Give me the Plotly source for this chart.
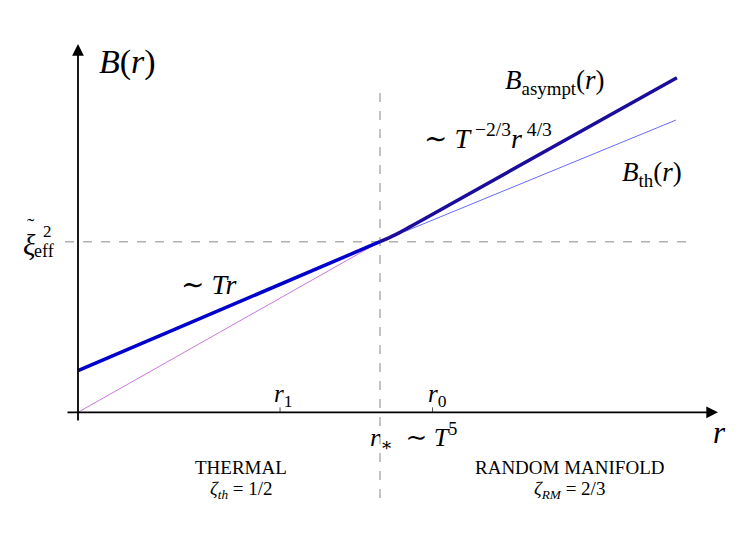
import plotly.graph_objects as go

# ---- data (r in units of r*, B in units of xi_eff^2) ----
r_thermal = [0.0, 1.0]
B_thermal = [0.244, 1.0]

r_asympt = [1.0, 1.050, 1.099, 1.149, 1.983]
B_asympt = [1.0, 1.040, 1.087, 1.136, 1.961]

r_bth = [1.0, 1.980]
B_bth = [1.0, 1.713]

r_rm_extrap = [0.0, 1.0]
B_rm_extrap = [0.0, 1.0]

r_star = 1.0
xi_eff2 = 1.0
r_ticks = [0.669, 1.174]
r_tick_labels = ["<i>r</i><sub>1</sub>", "<i>r</i><sub>0</sub>"]

W, H = 747, 544
X0, XS = 78.0, 302.0
Y0, YS = 412.3, 170.6


def px(x):
    return (x - X0) / XS


def py(y):
    return (Y0 - y) / YS


FONT = "Liberation Serif, DejaVu Serif, serif"

fig = go.Figure()
fig.add_trace(go.Scatter(x=r_rm_extrap, y=B_rm_extrap, mode="lines",
                         line=dict(color="#cc77dd", width=1)))
fig.add_trace(go.Scatter(x=r_bth, y=B_bth, mode="lines",
                         line=dict(color="#6a6aff", width=1)))
fig.add_trace(go.Scatter(x=r_thermal, y=B_thermal, mode="lines",
                         line=dict(color="#0000cc", width=3.5)))
fig.add_trace(go.Scatter(x=r_asympt, y=B_asympt, mode="lines",
                         line=dict(color="#1c0c9c", width=3.5, shape="spline")))

shapes = [
    dict(type="line", xref="x", yref="y", x0=r_star, x1=r_star, y0=py(93), y1=py(505),
         line=dict(color="#b0b0b0", width=1.5, dash="dash"), layer="below"),
    dict(type="line", xref="x", yref="y", x0=px(65), x1=px(690), y0=xi_eff2, y1=xi_eff2,
         line=dict(color="#b0b0b0", width=1.5, dash="dash"), layer="below"),
]
for t in r_ticks:
    shapes.append(dict(type="line", xref="x", yref="y", ysizemode="pixel", yanchor=0,
                       x0=t, x1=t, y0=0, y1=5, line=dict(color="#555555", width=1)))

ann = []
# axes with arrowheads
ann.append(dict(x=px(718), y=0, ax=px(66), ay=0, xref="x", yref="y", axref="x", ayref="y",
                showarrow=True, arrowhead=2, arrowsize=1.3, arrowwidth=1.8, arrowcolor="black", text=""))
ann.append(dict(x=0, y=py(44), ax=0, ay=py(422), xref="x", yref="y", axref="x", ayref="y",
                showarrow=True, arrowhead=2, arrowsize=1.3, arrowwidth=1.8, arrowcolor="black", text=""))


def label(xp, yp, text, size):
    ann.append(dict(x=px(xp), y=py(yp), xref="x", yref="y", text=text, showarrow=False,
                    font=dict(family=FONT, size=size, color="black"),
                    xanchor="center", yanchor="middle"))


label(127, 62, "<i>B</i>(<i>r</i>)", 34)
label(719, 432, "<i>r</i>", 31)
label(29, 245, "<i>ξ</i>", 29)
label(31, 225, "˜", 22)
label(47, 231, "2", 17)
label(44, 251, "eff", 18)
label(208, 284, "∼ <i>Tr</i>", 28)
label(488, 136, "∼ <i>T</i><sup> −2/3</sup><i>r</i><sup> 4/3</sup>", 28)
label(555, 82, "<i>B</i><sub>asympt</sub>(<i>r</i>)", 27)
label(652, 174, "<i>B</i><sub>th</sub>(<i>r</i>)", 27)
label(283, 395, r_tick_labels[0], 25)
label(437, 395, r_tick_labels[1], 25)
label(413, 437, "<i>r</i><sub>∗</sub>  ∼ <i>T</i><sup>5</sup>", 26)
label(241, 467, "THERMAL", 19)
label(241, 490, "<i>ζ<sub>th</sub></i> = 1/2", 19)
label(569, 467, "RANDOM MANIFOLD", 19)
label(569, 490, "<i>ζ<sub>RM</sub></i> = 2/3", 19)

fig.update_layout(
    width=W, height=H, autosize=False,
    margin=dict(l=0, r=0, t=0, b=0),
    paper_bgcolor="white", plot_bgcolor="white",
    showlegend=False,
    shapes=shapes, annotations=ann,
    xaxis=dict(range=[px(0), px(W)], visible=False, fixedrange=True),
    yaxis=dict(range=[py(H), py(0)], visible=False, fixedrange=True),
)

fig.write_html("out.html", config={"displayModeBar": False},
               post_script="document.body.style.margin='0';")
